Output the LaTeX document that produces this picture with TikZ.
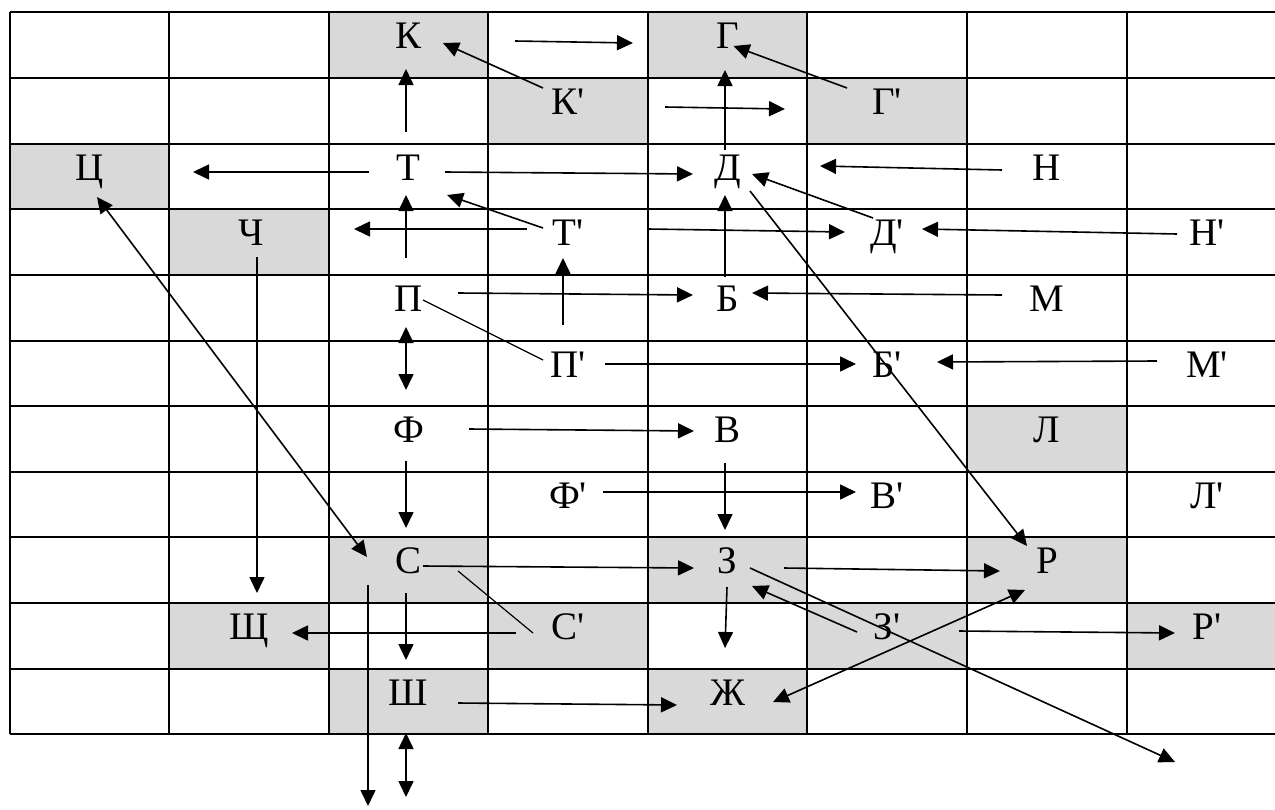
\documentclass[tikz,border=0pt]{standalone}
\usepackage{fontspec}
\setmainfont{Liberation Serif}
\usetikzlibrary{arrows.meta,calc}
\definecolor{cellgray}{HTML}{D9D9D9}
\newcommand\myq{\textquotesingle}
\begin{document}
\begin{tikzpicture}[x=0.5pt,y=-0.5pt,
  lbl/.style={inner sep=0pt,text height=12.5pt,text depth=0pt,font=\fontsize{19.5}{22}\selectfont},
  gridline/.style={line width=0.8pt},
  arr/.style={line width=0.8pt,-{Triangle[length=8pt,width=7.5pt]}},
  darr/.style={line width=0.8pt,{Triangle[length=8pt,width=7.5pt]}-{Triangle[length=8pt,width=7.5pt]}},
  thinline/.style={line width=0.6pt},
  cellfill/.style={fill=cellgray}]
\useasboundingbox (0,0) rectangle (1275,809);
% shaded cells
\fill[cellfill] (329,12) rectangle (488,78);
\fill[cellfill] (648,12) rectangle (807,78);
\fill[cellfill] (488,78) rectangle (648,144);
\fill[cellfill] (807,78) rectangle (967,144);
\fill[cellfill] (10,144) rectangle (169,209);
\fill[cellfill] (169,209) rectangle (329,275);
\fill[cellfill] (967,406) rectangle (1127,472);
\fill[cellfill] (329,537) rectangle (488,603);
\fill[cellfill] (648,537) rectangle (807,603);
\fill[cellfill] (967,537) rectangle (1127,603);
\fill[cellfill] (169,603) rectangle (329,669);
\fill[cellfill] (488,603) rectangle (648,669);
\fill[cellfill] (807,603) rectangle (967,669);
\fill[cellfill] (1127,603) rectangle (1275,669);
\fill[cellfill] (329,669) rectangle (488,734);
\fill[cellfill] (648,669) rectangle (807,734);
% grid
\foreach \yy in {12,78,144,209,275,341,406,472,537,603,669,734}
  \draw[gridline] (10,\yy) -- (1275,\yy);
\foreach \xx in {10,169,329,488,648,807,967,1127}
  \draw[gridline] (\xx,12) -- (\xx,734);
% labels
\node[lbl] (K) at (408.5,36) {К};
\node[lbl] (G) at (727.5,36) {Г};
\node[lbl] (Kp) at (568,102) {К\myq};
\node[lbl] (Gp) at (887,102) {Г\myq};
\node[lbl] (Cc) at (89.5,167.5) {Ц};
\node[lbl] (T) at (408.5,167.5) {Т};
\node[lbl] (D) at (727.5,167.5) {Д};
\node[lbl] (N) at (1047,167.5) {Н};
\node[lbl] (Ch) at (251,233) {Ч};
\node[lbl] (Tp) at (568,233) {Т\myq};
\node[lbl] (Dp) at (887,233) {Д\myq};
\node[lbl] (Np) at (1207,233) {Н\myq};
\node[lbl] (P) at (408.5,299) {П};
\node[lbl] (B) at (727.5,299) {Б};
\node[lbl] (M) at (1047,299) {М};
\node[lbl] (Pp) at (568,364.5) {П\myq};
\node[lbl] (Bp) at (887,364.5) {Б\myq};
\node[lbl] (Mp) at (1207,364.5) {М\myq};
\node[lbl] (F) at (408.5,430) {Ф};
\node[lbl] (V) at (727.5,430) {В};
\node[lbl] (L) at (1047,430) {Л};
\node[lbl] (Fp) at (568,495.5) {Ф\myq};
\node[lbl] (Vp) at (887,495.5) {В\myq};
\node[lbl] (Lp) at (1207,495.5) {Л\myq};
\node[lbl] (S) at (408.5,561) {С};
\node[lbl] (Z) at (727.5,561) {З};
\node[lbl] (R) at (1047,561) {Р};
\node[lbl] (Shch) at (249,627) {Щ};
\node[lbl] (Sp) at (568,627) {С\myq};
\node[lbl] (Zp) at (887,627) {З\myq};
\node[lbl] (Rp) at (1207,627) {Р\myq};
\node[lbl] (Sh) at (408.5,692.5) {Ш};
\node[lbl] (Zh) at (727.5,692.5) {Ж};
\coordinate (sEnd) at (368,806);
\coordinate (shEnd) at (406,797);
\coordinate (zEnd) at (1175,762);
% connectors
\draw[arr] ($(Kp)+(-25,-14)$) -- ($(K)+(34.5,7)$);
\draw[arr] ($(K)+(106.5,5)$) -- ($(G)+(-94.5,7)$);
\draw[arr] ($(Gp)+(-40,-14)$) -- ($(G)+(6,10)$);
\draw[arr] ($(Kp)+(97,5)$) -- ($(Gp)+(-102,7)$);
\draw[arr] ($(D)+(-2.5,-17.5)$) -- ($(G)+(-2.5,34)$);
\draw[arr] ($(T)+(-2.5,-35.5)$) -- ($(K)+(-2.5,33)$);
\draw[arr] ($(T)+(-39.5,4.5)$) -- ($(Cc)+(103.5,4.5)$);
\draw[arr] ($(T)+(36.5,4.5)$) -- ($(D)+(-34.5,6.5)$);
\draw[arr] ($(N)+(-45,2.5)$) -- ($(D)+(92.5,-1.5)$);
\draw[arr] ($(Tp)+(-25,-5)$) -- ($(T)+(38.5,27.5)$);
\draw[arr] ($(Tp)+(-41,-4)$) -- ($(Ch)+(103,-4)$);
\draw[arr] ($(P)+(-2.5,-41)$) -- ($(T)+(-2.5,27.5)$);
\draw[arr] ($(Ch)+(6,24)$) -- ($(Shch)+(8,-34)$);
\draw[darr] ($(Cc)+(7.5,29.5)$) -- ($(S)+(-41.5,-4)$);
\draw[arr] ($(Tp)+(80,-4)$) -- ($(Dp)+(-42,-1)$);
\draw[arr] ($(Dp)+(-14,-15)$) -- ($(D)+(24.5,6.5)$);
\draw[arr] ($(Np)+(-30,1)$) -- ($(Dp)+(35,-4)$);
\draw[arr] ($(B)+(-2.5,-22)$) -- ($(D)+(-2.5,27.5)$);
\draw[arr] ($(D)+(22.5,23.5)$) -- ($(R)+(-20,-15)$);
\draw[arr] ($(P)+(49.5,-6)$) -- ($(B)+(-34.5,-4)$);
\draw[arr] ($(Pp)+(-5,-39.5)$) -- ($(Tp)+(-5,25)$);
\draw[arr] ($(M)+(-45,-4)$) -- ($(B)+(24.5,-6)$);
\draw[thinline] ($(P)+(14.5,1)$) -- ($(Pp)+(-25,-4.5)$);
\draw[darr] ($(P)+(-2.5,28)$) -- ($(F)+(-2.5,-40)$);
\draw[arr] ($(Pp)+(37,-0.5)$) -- ($(Bp)+(-31,-0.5)$);
\draw[arr] ($(Mp)+(-50,-3.5)$) -- ($(Bp)+(50,-2.5)$);
\draw[arr] ($(F)+(60.5,-1)$) -- ($(V)+(-33.5,1)$);
\draw[arr] ($(F)+(-2.5,31)$) -- ($(S)+(-2.5,-33)$);
\draw[arr] ($(V)+(-2.5,33)$) -- ($(Z)+(-2.5,-31)$);
\draw[arr] ($(Fp)+(35,-3.5)$) -- ($(Vp)+(-31,-3.5)$);
\draw[arr] ($(S)+(14.5,5)$) -- ($(Z)+(-33.5,7)$);
\draw[thinline] ($(S)+(49.5,10)$) -- ($(Sp)+(-35,6)$);
\draw[arr] ($(Sp)+(-52,6)$) -- ($(Shch)+(43,6)$);
\draw[arr] ($(S)+(-2.5,32)$) -- ($(Sh)+(-2.5,-32.5)$);
\draw[arr] ($(S)+(-40.5,24)$) -- (sEnd);
\draw[darr] ($(Sh)+(-2.5,40.5)$) -- (shEnd);
\draw[arr] ($(Sh)+(49.5,10.5)$) -- ($(Zh)+(-50.5,12.5)$);
\draw[arr] ($(Z)+(-0.5,26)$) -- ($(Zh)+(-2.5,-44.5)$);
\draw[arr] ($(Zp)+(-30,5)$) -- ($(Z)+(24.5,25)$);
\draw[arr] ($(Z)+(22.5,7)$) -- (zEnd);
\draw[arr] ($(Z)+(56.5,7)$) -- ($(R)+(-47,10)$);
\draw[arr] ($(Zp)+(72,4)$) -- ($(Rp)+(-32,6)$);
\draw[darr] ($(Zh)+(45.5,9.5)$) -- ($(R)+(-22,29)$);
\end{tikzpicture}
\end{document}
